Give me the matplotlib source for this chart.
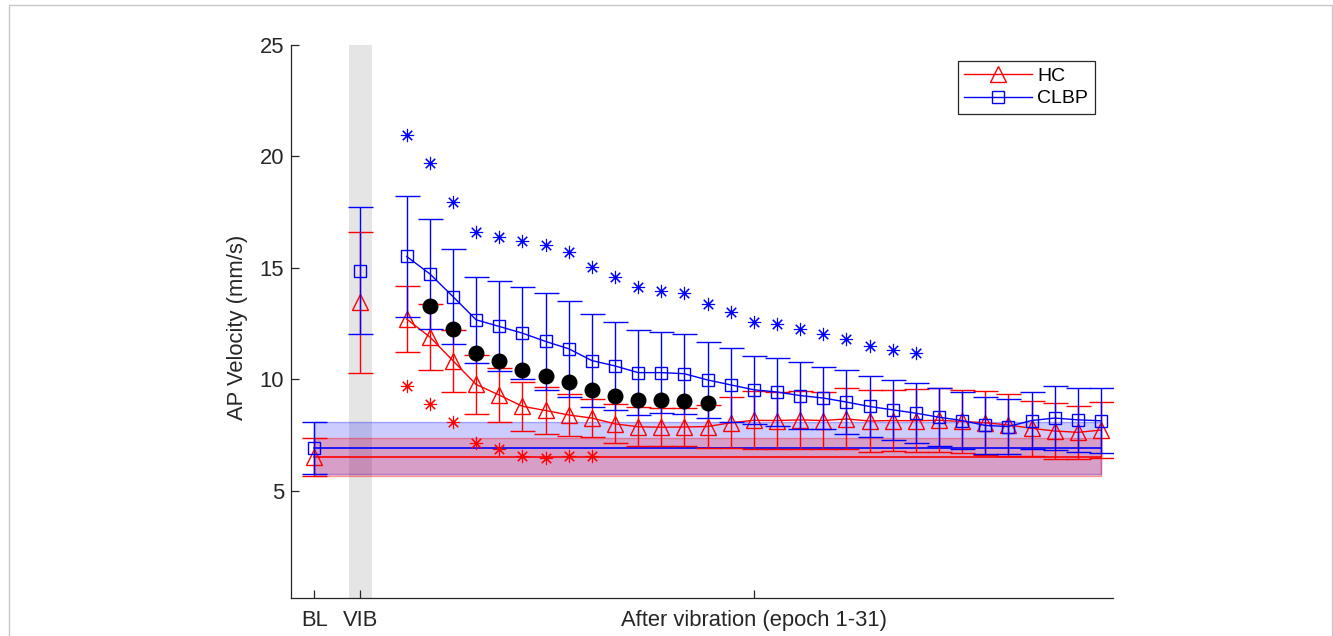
import numpy as np
import matplotlib
matplotlib.use('Agg')
import matplotlib.pyplot as plt
from matplotlib.lines import Line2D
from matplotlib.patches import Rectangle

plt.rcParams['font.family'] = ['Liberation Sans', 'DejaVu Sans']

# ---------------- data ----------------
tick_labels = ['BL', 'VIB', 'After vibration (epoch 1-31)']
epochs = np.arange(1, 32)

hc_bl_mean, hc_bl_sd = 6.53, 0.85
clbp_bl_mean, clbp_bl_sd = 6.90, 1.17
hc_vib_mean, hc_vib_sd = 13.45, 3.18
clbp_vib_mean, clbp_vib_sd = 14.88, 2.83

hc_mean = [12.70, 11.90, 10.83, 9.77, 9.29, 8.79, 8.60, 8.40, 8.26, 8.00,
           7.87, 7.85, 7.86, 7.88, 8.05, 8.16, 8.15, 8.18, 8.15, 8.22,
           8.13, 8.15, 8.14, 8.16, 8.11, 8.05, 7.95, 7.80, 7.68, 7.62, 7.72]
hc_sd = [1.48, 1.50, 1.40, 1.32, 1.20, 1.10, 1.06, 0.94, 0.87, 0.88,
         0.88, 0.86, 0.86, 0.95, 1.15, 1.30, 1.30, 1.30, 1.30, 1.37,
         1.37, 1.38, 1.42, 1.44, 1.42, 1.43, 1.40, 1.23, 1.24, 1.20, 1.27]

clbp_mean = [15.51, 14.73, 13.71, 12.67, 12.37, 12.07, 11.70, 11.37, 10.84, 10.60,
             10.30, 10.30, 10.25, 9.97, 9.75, 9.53, 9.43, 9.27, 9.16, 8.98,
             8.78, 8.63, 8.48, 8.30, 8.15, 7.93, 7.88, 8.15, 8.26, 8.18, 8.14]
clbp_sd = [2.73, 2.47, 2.13, 1.94, 2.02, 2.06, 2.17, 2.15, 2.10, 1.99,
           1.89, 1.82, 1.79, 1.69, 1.65, 1.52, 1.52, 1.50, 1.41, 1.42,
           1.35, 1.35, 1.35, 1.29, 1.28, 1.27, 1.23, 1.30, 1.42, 1.42, 1.46]

# significance markers
clbp_sig_epochs = np.arange(1, 24)
clbp_sig_vals = [20.95, 19.70, 17.97, 16.60, 16.40, 16.20, 16.03, 15.70, 15.06, 14.58,
                 14.12, 13.94, 13.85, 13.40, 13.04, 12.59, 12.49, 12.25, 12.04, 11.80,
                 11.50, 11.32, 11.20]
hc_sig_epochs = np.arange(1, 10)
hc_sig_vals = [9.72, 8.89, 8.08, 7.14, 6.87, 6.58, 6.47, 6.54, 6.54]
group_sig_epochs = np.arange(2, 15)
group_sig_vals = [13.30, 12.24, 11.18, 10.82, 10.43, 10.16, 9.87, 9.53, 9.26, 9.08,
                  9.08, 9.04, 8.95]

# ---------------- layout positions ----------------
BL_X, VIB_X, EP_OFFSET = 1, 3, 4
ep_x = epochs + EP_OFFSET
after_x = (ep_x[0] + ep_x[-1]) / 2

RED = (1, 0, 0)
BLUE = (0, 0, 1)

fig = plt.figure(figsize=(13.33, 6.36), dpi=100)
ax = fig.add_axes([291 / 1333, 1 - 597.7 / 636, (1112.5 - 291) / 1333, (597.7 - 45) / 636])

ax.set_xlim(0, 35.5)
ax.set_ylim(0.2, 25)

# VIB gray band
ax.axvspan(VIB_X - 0.5, VIB_X + 0.5, color='#e5e5e5', zorder=0, lw=0)

# baseline bands
span = [BL_X, ep_x[-1]]
ax.fill_between(span, clbp_bl_mean - clbp_bl_sd, clbp_bl_mean + clbp_bl_sd,
                facecolor=(0, 0, 1, 0.20), edgecolor=(0, 0, 1, 0.30), lw=1, zorder=1)
ax.fill_between(span, hc_bl_mean - hc_bl_sd, hc_bl_mean + hc_bl_sd,
                facecolor=(1, 0, 0, 0.22), edgecolor=(1, 0, 0, 0.35), lw=1, zorder=1.1)
ax.plot(span, [clbp_bl_mean] * 2, color=BLUE, lw=1.2, zorder=2)
ax.plot(span, [hc_bl_mean] * 2, color=RED, lw=1.2, zorder=2)

ekw = dict(capsize=9, elinewidth=1.0, capthick=1.0, lw=1.0, mfc='none', mew=1.0)

# BL and VIB points
ax.errorbar([BL_X, VIB_X], [hc_bl_mean, hc_vib_mean], yerr=[hc_bl_sd, hc_vib_sd],
            fmt='^', color=RED, ms=11, zorder=3, **ekw)
ax.errorbar([BL_X, VIB_X], [clbp_bl_mean, clbp_vib_mean], yerr=[clbp_bl_sd, clbp_vib_sd],
            fmt='s', color=BLUE, ms=8, zorder=3.1, **ekw)

# epochs
ax.errorbar(ep_x, hc_mean, yerr=hc_sd, fmt='-^', color=RED, ms=11, zorder=3, **ekw)
ax.errorbar(ep_x, clbp_mean, yerr=clbp_sd, fmt='-s', color=BLUE, ms=8, zorder=3.1, **ekw)

# significance markers
for xs, vals, col in [(clbp_sig_epochs, clbp_sig_vals, BLUE),
                      (hc_sig_epochs, hc_sig_vals, RED)]:
    ax.plot(xs + EP_OFFSET, vals, ls='none', marker=(8, 2, 0),
            ms=9.5, mew=0.8, color=col, zorder=4)
    ax.plot(xs + EP_OFFSET, vals, ls='none', marker='o',
            ms=2.5, mew=0, color=col, zorder=4)
ax.plot(group_sig_epochs + EP_OFFSET, group_sig_vals, ls='none', marker='o',
        ms=10.5, color='black', zorder=5)

# axes styling
for s in ['top', 'right']:
    ax.spines[s].set_visible(False)
for s in ['left', 'bottom']:
    ax.spines[s].set_color('#262626')
    ax.spines[s].set_linewidth(0.9)

ax.set_yticks([5, 10, 15, 20, 25])
ax.set_xticks([BL_X, VIB_X, after_x])
ax.set_xticklabels(tick_labels)
ax.tick_params(direction='in', length=6, width=0.9, color='#262626',
               labelsize=15.8, labelcolor='#262626')
ax.tick_params(axis='x', pad=9)
ax.tick_params(axis='y', pad=5)

ax.set_ylabel('AP Velocity (mm/s)', fontsize=15.8, color='#262626')
ax.yaxis.set_label_coords(-0.052, 0.49)

# legend
handles = [Line2D([], [], color=RED, lw=1.0, marker='^', ms=11, mfc='none', mew=1.0),
           Line2D([], [], color=BLUE, lw=1.0, marker='s', ms=8, mfc='none', mew=1.0)]
leg = ax.legend(handles, ['HC', 'CLBP'], loc='upper right',
                bbox_to_anchor=(1095 / 1333, 1 - 60.5 / 636), bbox_transform=fig.transFigure,
                borderaxespad=0, fontsize=14, handlelength=3.5, handletextpad=0.25,
                borderpad=0.35, labelspacing=0.25, fancybox=False, framealpha=1,
                edgecolor='#262626')
leg.get_frame().set_linewidth(0.9)

# figure border
fig.add_artist(Rectangle((9 / 1333, -0.05), (1331.5 - 9) / 1333, 1.05 - 5 / 636,
                         transform=fig.transFigure, fill=False, edgecolor='#c8c8c8', lw=1))

fig.savefig('out.png', dpi=100)
